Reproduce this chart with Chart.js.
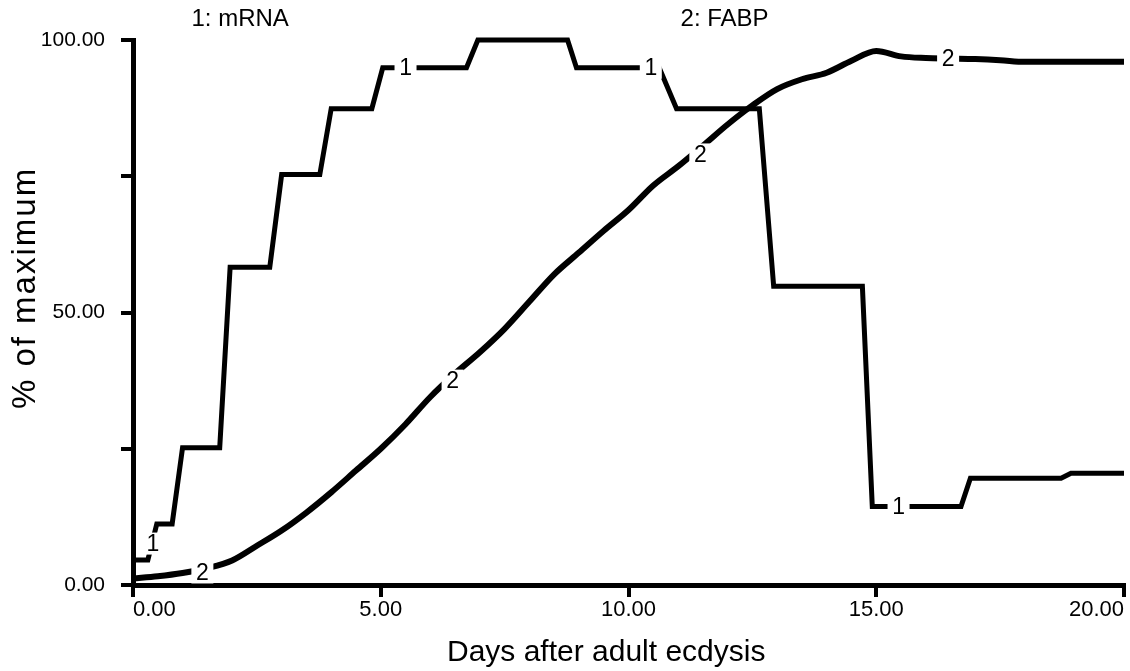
<!DOCTYPE html>
<html>
<head>
<meta charset="utf-8">
<script src="https://cdn.jsdelivr.net/npm/chart.js@4.4.1/dist/chart.umd.min.js"></script>
<style>
  html, body { margin: 0; padding: 0; background: #fff; }
  #wrap { width: 1130px; height: 671px; }
</style>
</head>
<body>
<div id="wrap"><canvas id="chart"></canvas></div>
<script>
// curve 1: mRNA (stepwise)
const mrnaDays   = [0, 0.3, 0.48, 0.79, 1.0, 1.75, 1.96, 2.76, 3.0, 3.77, 4.0, 4.82, 5.04, 6.73, 6.96, 8.77, 8.95, 10.62, 10.97, 12.64, 12.93, 14.72, 14.92, 16.71, 16.9, 18.73, 18.93, 20];
const mrnaValues = [4.6, 4.6, 11.2, 11.2, 25.2, 25.2, 58.3, 58.3, 75.3, 75.3, 87.4, 87.4, 94.9, 94.9, 100, 100, 94.9, 94.9, 87.4, 87.4, 54.8, 54.8, 14.4, 14.4, 19.6, 19.6, 20.5, 20.5];

// curve 2: FABP
const fabpDays   = [0, 0.5, 1, 1.5, 2, 2.5, 3, 3.5, 4, 4.5, 5, 5.5, 6, 6.5, 7, 7.5, 8, 8.5, 9, 9.5, 10, 10.5, 11, 11.5, 12, 12.5, 13, 13.5, 14, 14.5, 15, 15.5, 16, 16.5, 17, 17.5, 18, 18.5, 19, 19.5, 20];
const fabpValues = [1.2, 1.6, 2.2, 3.1, 4.5, 7.2, 10, 13.3, 17, 21, 25, 29.5, 34.5, 38.8, 42.7, 47, 52, 57, 61, 65, 68.8, 73.3, 76.8, 80.6, 84.5, 88, 91, 92.8, 94, 96.2, 98, 97, 96.7, 96.6, 96.5, 96.3, 96, 96, 96, 96, 96];

// curve number tags sitting on the lines
const mrnaTagDays   = [0.4, 5.5, 10.45, 15.45];
const mrnaTagValues = [7.6, 94.9, 94.9, 14.4];
const fabpTagDays   = [1.4, 6.45, 11.45, 16.45];
const fabpTagValues = [2.3, 37.5, 79.0, 96.6];

// key above the plot: text and the day where it starts
const keyLabels = ['1: mRNA', '2: FABP'];
const keyDays   = [1.18, 11.05];

const xTicks = [0, 5, 10, 15, 20];
const yTicks = [0, 25, 50, 75, 100];
const yLabelled = [0, 50, 100];

const xTitle = 'Days after adult ecdysis';
const yTitle = '% of maximum';

const FONT = "'Liberation Sans', Arial, Helvetica, sans-serif";

const toPoints = (xs, ys) => xs.map((x, i) => ({ x: x, y: ys[i] }));

const textPlugin = {
  id: 'figureText',
  afterDatasetsDraw(chart) {
    const ctx = chart.ctx;
    const xs = chart.scales.x, ys = chart.scales.y;
    const area = chart.chartArea;
    ctx.save();
    ctx.font = '23px ' + FONT;
    ctx.textAlign = 'center';
    ctx.textBaseline = 'middle';
    const tag = (txt, dx, vy) => {
      const px = xs.getPixelForValue(dx), py = ys.getPixelForValue(vy);
      ctx.fillStyle = '#fff';
      ctx.fillRect(px - 11, py - 11, 22, 22);
      ctx.fillStyle = '#000';
      ctx.fillText(txt, px, py + 1);
    };
    mrnaTagDays.forEach((d, i) => tag('1', d, mrnaTagValues[i]));
    fabpTagDays.forEach((d, i) => tag('2', d, fabpTagValues[i]));

    // key
    ctx.font = '24px ' + FONT;
    ctx.textAlign = 'left';
    keyLabels.forEach((t, i) => {
      ctx.fillText(t, xs.getPixelForValue(keyDays[i]), area.top - 21);
    });

    // axis titles
    ctx.textAlign = 'center';
    ctx.font = '30px ' + FONT;
    ctx.fillText(xTitle, xs.getPixelForValue(9.55), chart.height - 18);

    ctx.translate(26, ys.getPixelForValue(54.5));
    ctx.rotate(-Math.PI / 2);
    ctx.font = '33px ' + FONT;
    ctx.letterSpacing = '2px';
    ctx.fillText(yTitle, 0, 0);
    ctx.restore();
  }
};

new Chart(document.getElementById('chart'), {
  type: 'line',
  data: {
    datasets: [
      {
        label: '1: mRNA',
        data: toPoints(mrnaDays, mrnaValues),
        borderColor: '#000',
        borderWidth: 5,
        pointRadius: 0,
        tension: 0,
        borderJoinStyle: 'miter',
        clip: false
      },
      {
        label: '2: FABP',
        data: toPoints(fabpDays, fabpValues),
        borderColor: '#000',
        borderWidth: 6,
        pointRadius: 0,
        cubicInterpolationMode: 'monotone',
        clip: false
      }
    ]
  },
  options: {
    responsive: true,
    maintainAspectRatio: false,
    animation: false,
    layout: { padding: { top: 40, right: 6, left: 0, bottom: 0 } },
    plugins: {
      legend: { display: false },
      tooltip: { enabled: false }
    },
    scales: {
      x: {
        type: 'linear',
        min: 0,
        max: 20,
        afterBuildTicks: s => { s.ticks = xTicks.map(v => ({ value: v })); },
        afterFit: s => { s.height = 86; s.paddingLeft = 0; s.paddingRight = 0; },
        ticks: {
          align: 'inner',
          color: '#000',
          font: { family: FONT, size: 22 },
          padding: 0,
          maxRotation: 0,
          callback: v => Number(v).toFixed(2)
        },
        grid: { drawOnChartArea: false, drawTicks: true, tickLength: 12, lineWidth: 4, color: '#000' },
        border: { display: true, width: 5, color: '#000' }
      },
      y: {
        min: 0,
        max: 100,
        afterBuildTicks: s => { s.ticks = yTicks.map(v => ({ value: v })); },
        afterFit: s => { s.width = 133; },
        ticks: {
          color: '#000',
          font: { family: FONT, size: 21 },
          padding: 16,
          callback: v => yLabelled.includes(v) ? Number(v).toFixed(2) : ''
        },
        grid: { drawOnChartArea: false, drawTicks: true, tickLength: 12, lineWidth: 4, color: '#000' },
        border: { display: true, width: 5, color: '#000' }
      }
    }
  },
  plugins: [textPlugin]
});
</script>
</body>
</html>
